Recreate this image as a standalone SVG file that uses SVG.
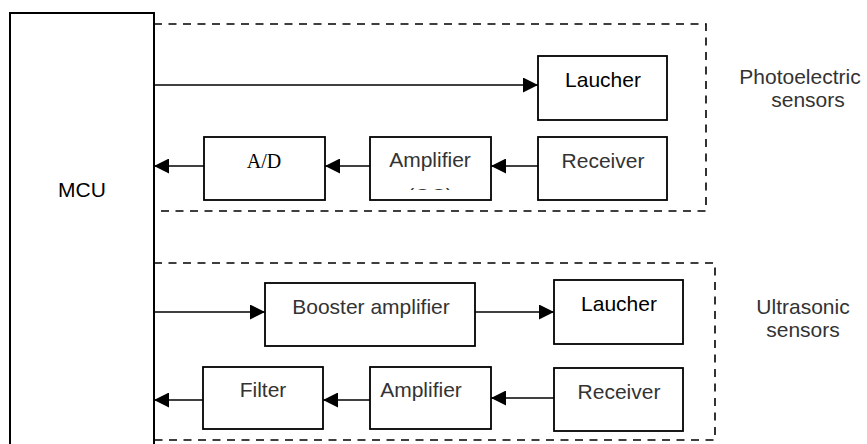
<svg xmlns="http://www.w3.org/2000/svg" width="867" height="444" viewBox="0 0 867 444">
  <style>
    .box { fill: #fff; stroke: #000; stroke-width: 1.8; }
    .group { fill: none; stroke: #000; stroke-width: 1.6; stroke-dasharray: 8 6.5; }
    .wire { fill: none; stroke: #000; stroke-width: 1.5; marker-end: url(#head); }
    .t { font-family: "Liberation Sans", Arial, sans-serif; font-size: 21px; fill: #333; text-anchor: middle; }
    .dark { fill: #000; }
    .serif { font-family: "Liberation Serif", "Times New Roman", serif; font-size: 20px; fill: #000; }
  </style>
  <defs>
    <marker id="head" markerWidth="15" markerHeight="15" refX="15" refY="7.5" orient="auto" markerUnits="userSpaceOnUse">
      <path d="M0,0 L15,7.5 L0,15 Z" fill="#000"/>
    </marker>
    <clipPath id="ampClip">
      <rect x="371" y="138" width="119" height="52"/>
    </clipPath>
  </defs>

  <rect width="867" height="444" fill="#fff"/>

  <!-- sensor group frames -->
  <g id="photoelectric-group">
    <rect class="group" x="154" y="24" width="552" height="187"/>
    <text class="t" x="800" y="84">Photoelectric</text>
    <text class="t" x="808" y="107">sensors</text>
  </g>
  <g id="ultrasonic-group">
    <rect class="group" x="154" y="263" width="561" height="177"/>
    <text class="t" x="803" y="314">Ultrasonic</text>
    <text class="t" x="803" y="337">sensors</text>
  </g>

  <!-- controller -->
  <g id="mcu">
    <rect class="box" x="10" y="13" width="144" height="440" style="fill:none;stroke-width:2"/>
    <text class="t dark" x="82" y="197">MCU</text>
  </g>

  <!-- photoelectric chain -->
  <g id="launcher-1">
    <rect class="box" x="538" y="56" width="129" height="64"/>
    <text class="t dark" x="603" y="87">Laucher</text>
  </g>
  <g id="ad">
    <rect class="box" x="204" y="137" width="121" height="63"/>
    <text class="serif" x="264" y="168" text-anchor="middle">A/D</text>
  </g>
  <g id="amplifier-1">
    <rect class="box" x="370" y="137" width="121" height="63"/>
    <text class="t" x="430" y="167">Amplifier</text>
    <text class="t" x="430" y="203" clip-path="url(#ampClip)">(OC)</text>
  </g>
  <g id="receiver-1">
    <rect class="box" x="538" y="137" width="129" height="63"/>
    <text class="t" x="603" y="168">Receiver</text>
  </g>

  <!-- ultrasonic chain -->
  <g id="booster">
    <rect class="box" x="265" y="283" width="210" height="63"/>
    <text class="t" x="371" y="314">Booster amplifier</text>
  </g>
  <g id="launcher-2">
    <rect class="box" x="554" y="280" width="129" height="64"/>
    <text class="t dark" x="619" y="311">Laucher</text>
  </g>
  <g id="filter">
    <rect class="box" x="203" y="367" width="120" height="62"/>
    <text class="t" x="263" y="397">Filter</text>
  </g>
  <g id="amplifier-2">
    <rect class="box" x="370" y="367" width="121" height="62"/>
    <text class="t" x="421" y="397">Amplifier</text>
  </g>
  <g id="receiver-2">
    <rect class="box" x="554" y="368" width="129" height="63"/>
    <text class="t" x="619" y="399">Receiver</text>
  </g>

  <!-- signal connectors -->
  <g id="connectors">
    <path class="wire" d="M154,85 H538"/>
    <path class="wire" d="M204,166 H154"/>
    <path class="wire" d="M370,166 H325"/>
    <path class="wire" d="M538,166 H491"/>
    <path class="wire" d="M154,312 H265"/>
    <path class="wire" d="M475,312 H554"/>
    <path class="wire" d="M203,400 H154"/>
    <path class="wire" d="M370,400 H323"/>
    <path class="wire" d="M554,398 H491"/>
  </g>
</svg>
